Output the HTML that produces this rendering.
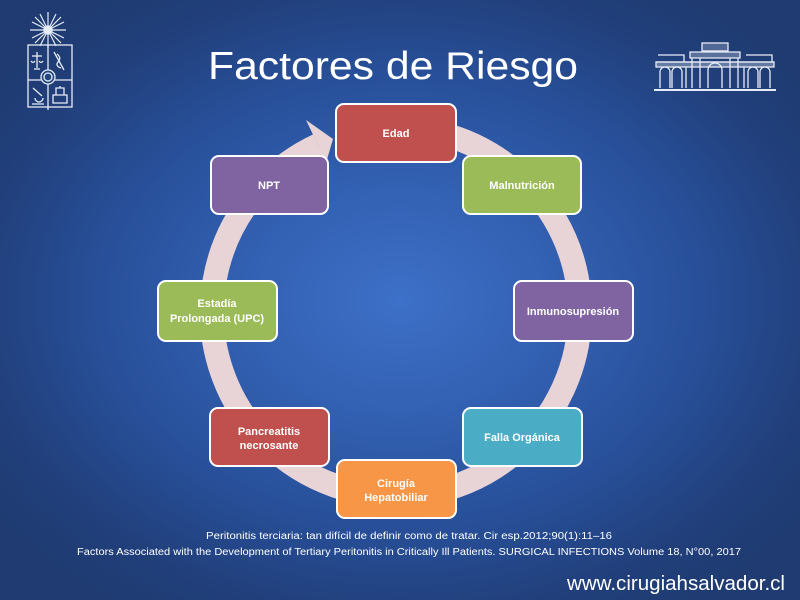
<!DOCTYPE html>
<html>
<head>
<meta charset="utf-8">
<style>
  html,body{margin:0;padding:0;}
  body{width:800px;height:600px;overflow:hidden;
    background: radial-gradient(ellipse 62% 62% at 50% 50%, #3d70c8 0%, #3361b3 30%, #28509a 60%, #213f7b 85%, #1f3b72 100%);
    font-family:"Liberation Sans", sans-serif;}
  svg{position:absolute;left:0;top:0;}
</style>
</head>
<body>
<svg width="800" height="600" viewBox="0 0 800 600" xmlns="http://www.w3.org/2000/svg">
  <!-- Left logo -->
  <g stroke="#e6ecf6" fill="none" stroke-width="1.3">
    <g stroke-width="1.2">
      <line x1="48" y1="12" x2="48" y2="48"/>
      <line x1="30" y1="30" x2="66" y2="30"/>
      <line x1="35" y1="17" x2="61" y2="43"/>
      <line x1="61" y1="17" x2="35" y2="43"/>
      <line x1="40" y1="14" x2="56" y2="46"/>
      <line x1="56" y1="14" x2="40" y2="46"/>
      <line x1="32" y1="22" x2="64" y2="38"/>
      <line x1="64" y1="22" x2="32" y2="38"/>
    </g>
    <circle cx="48" cy="30" r="4" fill="#e6ecf6"/>
    <rect x="28" y="45" width="44" height="62"/>
    <line x1="48" y1="45" x2="48" y2="110"/>
    <line x1="28" y1="80" x2="72" y2="80"/>
    <circle cx="48" cy="77" r="7" fill="#24477f"/>
    <circle cx="48" cy="77" r="4"/>
    <!-- scales -->
    <line x1="37" y1="52" x2="37" y2="68"/>
    <line x1="32" y1="56" x2="42" y2="56"/>
    <path d="M31 61 Q33 64 35 61 M39 61 Q41 64 43 61"/>
    <line x1="34" y1="69" x2="40" y2="69"/>
    <!-- caduceus -->
    <path d="M54 52 L64 70 M57 54 Q62 58 58 62 Q55 66 61 68"/>
    <!-- bottom-left -->
    <path d="M33 88 L42 96 M35 98 a4 4 0 1 0 8 0 M32 104 L44 104"/>
    <!-- bottom-right book -->
    <path d="M53 95 L67 95 L67 103 L53 103 Z M56 95 L56 88 L64 88 L64 95 M60 86 L60 88"/>
  </g>

  <!-- Right logo building -->
  <g stroke="#e6ecf6" fill="none" stroke-width="1.3">
    <rect x="702" y="43" width="26" height="8" fill="rgba(230,236,246,0.25)"/>
    <path d="M690 52 L740 52 L740 58 L690 58 Z" fill="rgba(230,236,246,0.3)"/>
    <path d="M656 62 L774 62"/>
    <path d="M658 55 L684 55 L684 62 M746 55 L772 55 L772 62"/>
    <rect x="656" y="62" width="118" height="5" fill="rgba(230,236,246,0.35)"/>
    <path d="M660 88 L660 72 a5 5 0 0 1 10 0 L670 88 M672 88 L672 72 a5 5 0 0 1 10 0 L682 88"/>
    <path d="M748 88 L748 72 a5 5 0 0 1 10 0 L758 88 M760 88 L760 72 a5 5 0 0 1 10 0 L770 88"/>
    <path d="M692 58 L692 88 M700 58 L700 88 M730 58 L730 88 M738 58 L738 88"/>
    <path d="M708 88 L708 70 a7 7 0 0 1 14 0 L722 88"/>
    <path d="M686 67 L686 88 M744 67 L744 88"/>
    <line x1="654" y1="90" x2="776" y2="90" stroke-width="2"/>
  </g>

  <!-- Title -->
  <text x="208" y="79" font-family="Liberation Sans, sans-serif" font-size="39" fill="#ffffff" textLength="370" lengthAdjust="spacingAndGlyphs">Factores de Riesgo</text>

  <!-- Ring -->
  <path d="M412 128.7 A184 184 0 1 1 318.2 145.2" stroke="#e8d3d7" stroke-width="24" fill="none"/>
  <polygon points="306,120 333,139 326,163 318,145" fill="#e8d3d7"/>

  <!-- Boxes -->
  <g stroke="#ffffff" stroke-width="2">
    <rect x="336" y="104" width="120" height="58" rx="8" fill="#c0504d"/>
    <rect x="211" y="156" width="117" height="58" rx="8" fill="#8064a2"/>
    <rect x="463" y="156" width="118" height="58" rx="8" fill="#9bbb59"/>
    <rect x="158" y="281" width="119" height="60" rx="8" fill="#9bbb59"/>
    <rect x="514" y="281" width="119" height="60" rx="8" fill="#8064a2"/>
    <rect x="210" y="408" width="119" height="58" rx="8" fill="#c0504d"/>
    <rect x="463" y="408" width="119" height="58" rx="8" fill="#4bacc6"/>
    <rect x="337" y="460" width="119" height="58" rx="8" fill="#f79646"/>
  </g>

  <g font-family="Liberation Sans, sans-serif" font-size="11" font-weight="bold" fill="#ffffff" text-anchor="middle">
    <text x="396" y="137">Edad</text>
    <text x="269" y="189">NPT</text>
    <text x="522" y="189">Malnutrición</text>
    <text x="217" y="307">Estadía</text>
    <text x="217" y="322">Prolongada (UPC)</text>
    <text x="573" y="315">Inmunosupresión</text>
    <text x="269" y="435">Pancreatitis</text>
    <text x="269" y="449">necrosante</text>
    <text x="522" y="441">Falla Orgánica</text>
    <text x="396" y="487">Cirugía</text>
    <text x="396" y="501">Hepatobiliar</text>
  </g>

  <!-- Citations -->
  <g font-family="Liberation Sans, sans-serif" font-size="10" fill="#ffffff">
    <text x="206" y="539" textLength="406" lengthAdjust="spacingAndGlyphs">Peritonitis terciaria: tan difícil de definir como de tratar. Cir esp.2012;90(1):11–16</text>
    <text x="77" y="555" textLength="664" lengthAdjust="spacingAndGlyphs">Factors Associated with the Development of Tertiary Peritonitis in Critically Ill Patients. SURGICAL INFECTIONS Volume 18, N°00, 2017</text>
  </g>
  <text x="567" y="590" font-family="Liberation Sans, sans-serif" font-size="20" fill="#ffffff" textLength="218" lengthAdjust="spacingAndGlyphs">www.cirugiahsalvador.cl</text>
</svg>
</body>
</html>
